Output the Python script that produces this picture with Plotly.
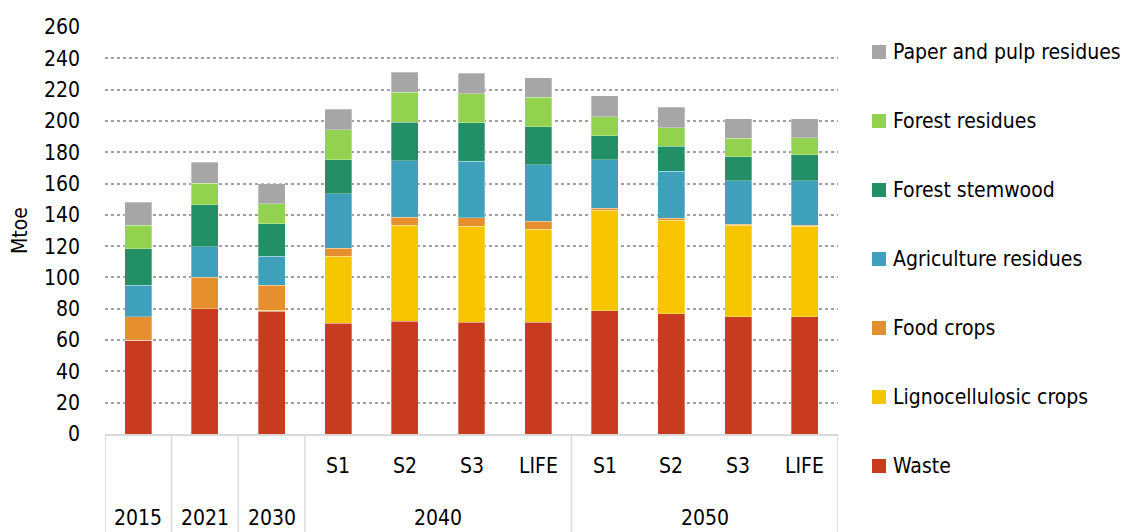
import plotly.graph_objects as go

years = ["2015", "2021", "2030", "2040", "2040", "2040", "2040", "2050", "2050", "2050", "2050"]
scenarios = ["", "", "", "S1", "S2", "S3", "LIFE", "S1", "S2", "S3", "LIFE"]

waste = [60, 80, 78.5, 70.6, 72.0, 71.3, 71.5, 78.7, 76.8, 74.9, 74.9]
ligno = [0, 0, 0.5, 42.8, 61.3, 61.5, 59.3, 64.3, 59.8, 58.3, 57.7]
food = [15, 20, 16, 5.3, 5.3, 5.3, 5.2, 1.3, 1.1, 0.8, 0.6]
agri = [20, 19.5, 18.6, 34.9, 36.0, 36.0, 35.9, 30.8, 30.2, 27.7, 28.5]
stem = [23.5, 27, 20.6, 21.7, 24.6, 24.6, 24.5, 15.5, 15.9, 15.5, 16.6]
forest_res = [14.7, 13.6, 12.8, 19.2, 19.2, 18.8, 18.7, 12.2, 11.9, 11.7, 11.1]
paper = [14.7, 13.6, 12.8, 12.9, 12.7, 12.9, 12.6, 13.4, 13.0, 12.6, 12.1]

series = [
    ("Waste", waste, "#C93B1F"),
    ("Lignocellulosic crops", ligno, "#F7C400"),
    ("Food crops", food, "#E58F2E"),
    ("Agriculture residues", agri, "#3EA0BB"),
    ("Forest stemwood", stem, "#228F66"),
    ("Forest residues", forest_res, "#92D24E"),
    ("Paper and pulp residues", paper, "#A6A6A6"),
]

y_ticks = list(range(0, 261, 20))
FONT = "DejaVu Sans Condensed"

W, H = 1122, 524  # page body has an 8px margin
M = dict(l=97, r=292, t=19, b=98)
PLOT_W = W - M["l"] - M["r"]
PLOT_H = H - M["t"] - M["b"]
def py(px_below_axis):
    return -px_below_axis / PLOT_H
def px_to_paper_x(px):  # px measured from the plot's left edge
    return px / PLOT_W
def px_to_paper_y(px):  # px measured from the plot's top edge
    return 1 - px / PLOT_H

x = list(range(len(years)))
fig = go.Figure()
for i, (name, vals, col) in enumerate(series):
    fig.add_trace(go.Bar(
        x=x, y=vals, name=name, marker_color=col,
        marker_line=dict(color="rgba(255,255,255,0.6)", width=0.5),
        showlegend=False,
    ))

# legend drawn as shapes + text (top item = last series)
for k, (name, vals, col) in enumerate(reversed(series)):
    cy = 25 + 69 * k  # px from plot top
    fig.add_shape(type="rect", xref="paper", yref="paper",
                  x0=px_to_paper_x(767), x1=px_to_paper_x(781),
                  y0=px_to_paper_y(cy - 7), y1=px_to_paper_y(cy + 7),
                  line=dict(width=0), fillcolor=col)
    fig.add_annotation(x=px_to_paper_x(786), y=px_to_paper_y(cy), xref="paper", yref="paper",
                       xanchor="left", yanchor="middle", text=name, showarrow=False,
                       font=dict(size=21, color="black", family=FONT))

# second-level labels and group labels
for i, s in enumerate(scenarios):
    if s:
        fig.add_annotation(x=i, y=py(32), xref="x", yref="paper", yanchor="middle",
                           text=s, showarrow=False,
                           font=dict(size=21, color="black", family=FONT))
groups = []
for i, yv in enumerate(years):
    if groups and groups[-1][0] == yv:
        groups[-1][2] = i
    else:
        groups.append([yv, i, i])
for yv, a, b in groups:
    fig.add_annotation(x=(a + b) / 2, y=py(84), xref="x", yref="paper", yanchor="middle",
                       text=yv, showarrow=False,
                       font=dict(size=21, color="black", family=FONT))
# dividers
edges = [groups[0][1] - 0.5] + [g[2] + 0.5 for g in groups]
for e in edges:
    fig.add_shape(type="line", xref="x", yref="paper", x0=e, x1=e, y0=0, y1=py(98),
                  line=dict(color="#D9D9D9", width=1.5))

fig.update_layout(
    barmode="stack",
    bargap=0.595,
    width=W, height=H,
    margin=dict(**M, autoexpand=False),
    plot_bgcolor="white", paper_bgcolor="white",
    font=dict(family=FONT, size=21, color="black"),
    showlegend=False,
    xaxis=dict(range=[-0.5, 10.5], showticklabels=False, showgrid=False, zeroline=False,
               showline=True, linecolor="#D9D9D9", linewidth=1.5, ticks=""),
    yaxis=dict(range=[0, 260], tickvals=y_ticks, showgrid=True, gridcolor="#A0A0A0",
               griddash="dot", gridwidth=1.5, zeroline=False, showline=False,
               ticklabelstandoff=24, tickfont=dict(size=21),
               title=dict(text="Mtoe", font=dict(size=21), standoff=12)),
)
fig.write_html("out.html")
